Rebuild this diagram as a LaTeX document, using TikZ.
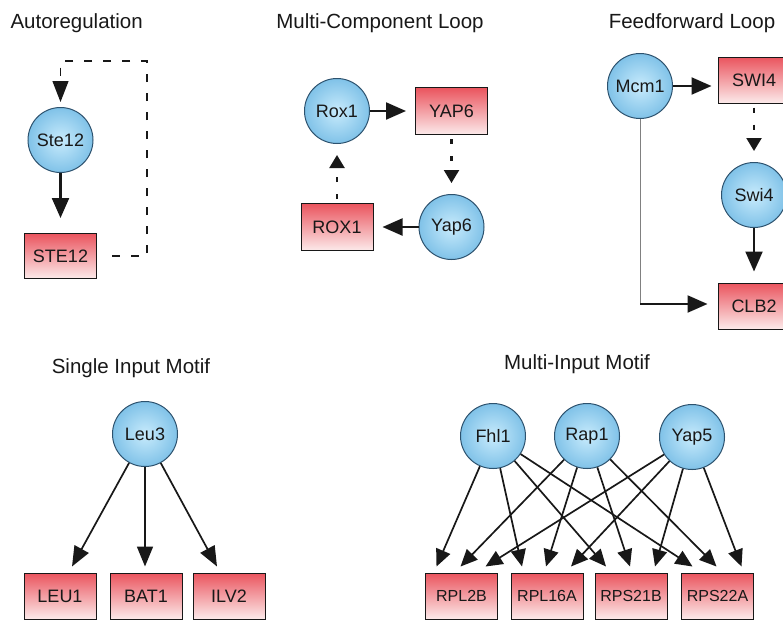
\documentclass[tikz,border=0pt]{standalone}
\usepackage{fontspec}
\setmainfont{Liberation Sans}
\usepackage{tikz}
\usetikzlibrary{arrows.meta, calc, positioning}
\definecolor{tfin}{RGB}{200,235,252}
\definecolor{tfout}{RGB}{128,194,232}
\definecolor{tfline}{RGB}{45,82,110}
\definecolor{genetop}{RGB}{234,84,94}
\definecolor{genebot}{RGB}{252,234,234}
\definecolor{ink}{RGB}{24,24,24}

\begin{document}
\begin{tikzpicture}[x=1pt, y=-1pt]
\tikzset{
  tf/.style={circle, draw=tfline, line width=1pt, inner sep=0pt, minimum size=65pt,
    inner color=tfin, outer color=tfout, text=ink, font=\fontsize{18}{20}\selectfont},
  gene/.style={rectangle, draw=ink, line width=1pt, inner sep=0pt, minimum width=72pt,
    minimum height=46pt, top color=genetop, bottom color=genebot, text=ink,
    font=\fontsize{18}{20}\selectfont},
  small gene/.style={gene, font=\fontsize{16}{18}\selectfont},
  title/.style={anchor=base, text=ink, font=\fontsize{20.5}{24}\selectfont},
  link/.style={-{Triangle[length=20pt,width=17pt]}, line width=2.2pt, draw=ink, shorten >=9pt},
  weak/.style={-{Triangle[length=13pt,width=15pt]}, line width=2.2pt, draw=ink,
    dash pattern=on 5pt off 12pt, shorten >=11pt, shorten <=4pt},
  spoke/.style={-{Triangle[length=17pt,width=15pt]}, line width=1.7pt, draw=ink},
  feedback/.style={-{Triangle[length=21pt,width=16pt]}, line width=1.2pt, draw=ink,
    dash pattern=on 8pt off 11pt, shorten >=5pt}
}
  \useasboundingbox (0,0) rectangle (783,619);

  \node [title, anchor=base west] (tAuto) at (7,28) {Autoregulation};
  \node [title] (tLoop) at (380,28) {Multi-Component Loop};
  \node [title] (tFfl) at (692,28) {Feedforward Loop};
  \node [title] (tSim) at (131,373) {Single Input Motif};
  \node [title] (tMim) at (577,369) {Multi-Input Motif};

  \node [tf] (Ste12) at (60.5,140) {Ste12};
  \node [gene, minimum height=45pt] (STE12) [below=60pt of Ste12] {STE12};
  \coordinate (aTop) at (147,61);
  \draw [link, shorten >=15pt] (Ste12) -- (STE12);
  \draw [feedback] ($(STE12.east)+(15,0)$) -| (aTop) -| (Ste12.north);

  \node [tf] (Rox1) at (337,111) {Rox1};
  \node [gene, minimum height=47pt] (YAP6) at (451.5,111) {YAP6};
  \node [tf] (Yap6) at (451.5,227) {Yap6};
  \node [gene, minimum height=47pt] (ROX1) at (337,227) {ROX1};
  \draw [link] (Rox1) -- (YAP6);
  \draw [weak] (YAP6) -- (Yap6);
  \draw [link] (Yap6) -- (ROX1);
  \draw [weak] (ROX1) -- (Rox1);

  \node [tf] (Mcm1) at (640,86) {Mcm1};
  \node [gene] (SWI4) at (754,80) {SWI4};
  \node [tf] (Swi4) at (754,195) {Swi4};
  \node [gene] (CLB2) at (754,306) {CLB2};
  \coordinate (ffCorner) at ($(Mcm1 |- CLB2)+(0,-2)$);
  \draw [link, shorten >=6pt] (Mcm1.east) -- (Mcm1.east -| SWI4.west);
  \draw [weak] (SWI4) -- (Swi4);
  \draw [link, shorten >=11pt] (Swi4) -- (CLB2);
  \draw [line width=1pt, draw=black!50] (Mcm1) -- (ffCorner);
  \draw [link, shorten >=10pt] (ffCorner) -- (ffCorner -| CLB2.west);

  \node [tf] (Leu3) at (145,434) {Leu3};
  \node [gene] (LEU1) at (60,596) {LEU1};
  \node [gene] (BAT1) at (146,596) {BAT1};
  \node [gene] (ILV2) at (229,596) {ILV2};
  \foreach \g/\dx in {LEU1/12, BAT1/-1, ILV2/-12}
    \draw [spoke, -{Triangle[length=20pt,width=16pt]}] (Leu3) -- ($(\g.north)+(\dx,-6)$);

  \node [tf] (Fhl1) at (493,436) {Fhl1};
  \node [tf] (Rap1) at (587,436) {Rap1};
  \node [tf] (Yap5) at (692,437) {Yap5};
  \node [small gene] (RPL2B) at (461.5,596) {RPL2B};
  \node [small gene] (RPL16A) at (547,596) {RPL16A};
  \node [small gene] (RPS21B) at (631,596) {RPS21B};
  \node [small gene] (RPS22A) at (717.5,596) {RPS22A};
  \foreach \t/\dx in {Fhl1/-25, Rap1/-1, Yap5/24}
    \foreach \g in {RPL2B, RPL16A, RPS21B, RPS22A}
      \draw [spoke] (\t) -- ($(\g.north)+(\dx,-6)$);
\end{tikzpicture}
\end{document}
